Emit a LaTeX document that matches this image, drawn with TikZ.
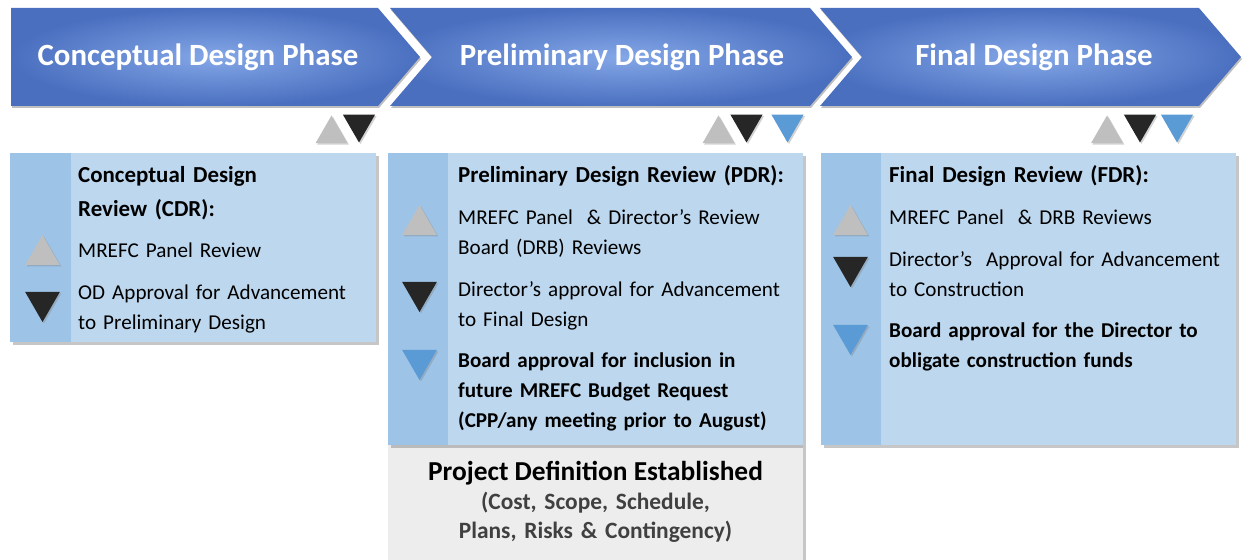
\documentclass[tikz,border=0pt]{standalone}
\usepackage{fontspec}
\setmainfont{Carlito}
\usetikzlibrary{shapes.geometric, shadows, positioning}

\definecolor{phasedark}{HTML}{4A6FBF}
\definecolor{phaselight}{HTML}{84A7E7}
\definecolor{boxblue}{HTML}{BDD7EE}
\definecolor{stripblue}{HTML}{9DC3E6}
\definecolor{markgray}{HTML}{BFBFBF}
\definecolor{markblack}{HTML}{262626}
\definecolor{markblue}{HTML}{5B9BD5}
\definecolor{notegray}{HTML}{EDEDED}
\definecolor{notetext}{HTML}{404040}

\tikzset{
    phasetext/.style={text=white,font=\fontsize{31}{36}\selectfont\bfseries},
    reviewbox/.style={rectangle,fill=boxblue,anchor=north west,inner sep=0pt,
        drop shadow={shadow xshift=3bp,shadow yshift=-3bp,opacity=0.45}},
    itemtext/.style={anchor=base west,inner sep=0pt,align=left,text width=345bp,
        font=\fontsize{21.2}{30}\selectfont},
    headtext/.style={itemtext,font=\fontsize{23}{34}\selectfont\bfseries},
    marksize/.style={regular polygon,regular polygon sides=3,inner sep=0pt,minimum size=#1,
        drop shadow={shadow xshift=1.5bp,shadow yshift=-1.5bp,opacity=0.35}},
    upmark/.style={marksize=#1,fill=markgray},
    downmark/.style={marksize=#1,fill=markblack,shape border rotate=180},
    bluemark/.style={marksize=#1,fill=markblue,shape border rotate=180},
}

\begin{document}
\begin{tikzpicture}[x=1bp,y=-1bp]
    \useasboundingbox (0,0) rectangle (1243,560);

    % phases
    \shade[inner color=phaselight,outer color=phasedark,drop shadow={shadow xshift=1bp,shadow yshift=-2bp,opacity=0.5}]
        (11,8) -- (378,8) -- (420,57) -- (378,106) -- (11,106) -- cycle;
    \shade[inner color=phaselight,outer color=phasedark,drop shadow={shadow xshift=1bp,shadow yshift=-2bp,opacity=0.5}]
        (390,8) -- (810,8) -- (852,57) -- (810,106) -- (390,106) -- (432,57) -- cycle;
    \shade[inner color=phaselight,outer color=phasedark,drop shadow={shadow xshift=1bp,shadow yshift=-2bp,opacity=0.5}]
        (820,8) -- (1199,8) -- (1241,57) -- (1199,106) -- (820,106) -- (862,57) -- cycle;
    \node[phasetext] (cdp) at (198,57) {Conceptual Design Phase};
    \node[phasetext] (pdp) at (622,57) {Preliminary Design Phase};
    \node[phasetext] (fdp) at (1034,57) {Final Design Phase};

    % markers under the phases
    \node[upmark=37bp] (cdpup) at (331.5,134) {};
    \node[downmark=37bp] (cdpdown) at (359,124) {};
    \node[upmark=37bp] (pdpup) at (718.5,134) {};
    \node[downmark=37bp] (pdpdown) at (746.5,124) {};
    \node[bluemark=37bp] (pdpblue) at (787.5,124) {};
    \node[upmark=37bp] (fdpup) at (1107,134) {};
    \node[downmark=37bp] (fdpdown) at (1140,124) {};
    \node[bluemark=37bp] (fdpblue) at (1177,124) {};

    % review boxes
    \node[reviewbox,fill=notegray,minimum width=415bp,minimum height=115bp] (pdnote) at (388,445) {};
    \node[reviewbox,minimum width=366bp,minimum height=189bp] (cdrbox) at (10,153) {};
    \fill[stripblue] (10,153) rectangle (71,342);
    \node[reviewbox,minimum width=415bp,minimum height=292bp] (pdrbox) at (388,153) {};
    \fill[stripblue] (388,153) rectangle (448,445);
    \node[reviewbox,minimum width=415bp,minimum height=292bp] (fdrbox) at (821,153) {};
    \fill[stripblue] (821,153) rectangle (881,445);

    % CDR
    \node[upmark=40bp] (cdrup) at (42.5,255) {};
    \node[downmark=40bp] (cdrdown) at (42.5,302) {};
    \node[headtext] (cdrhead) at (78,183) {Conceptual Design\\Review (CDR):};
    \node[itemtext] (cdrone) at (78,258) {MREFC Panel Review};
    \node[itemtext] (cdrtwo) at (78,300) {OD Approval for Advancement\\to Preliminary Design};

    % PDR
    \node[upmark=40bp] (pdrup) at (419.5,225) {};
    \node[downmark=40bp] (pdrdown) at (419.5,292) {};
    \node[bluemark=40bp] (pdrblue) at (419.5,360) {};
    \node[headtext] (pdrhead) at (458,183) {Preliminary Design Review (PDR):};
    \node[itemtext] (pdrone) at (458,225) {MREFC Panel~ \& Director's Review\\Board (DRB) Reviews};
    \node[itemtext] (pdrtwo) at (458,297) {Director's approval for Advancement\\to Final Design};
    \node[itemtext,font=\fontsize{21.2}{30}\selectfont\bfseries] (pdrthree) at (458,368) {Board approval for inclusion in\\future MREFC Budget Request\\(CPP/any meeting prior to August)};

    % FDR
    \node[upmark=40bp] (fdrup) at (850.5,225) {};
    \node[downmark=40bp] (fdrdown) at (850.5,267) {};
    \node[bluemark=40bp] (fdrblue) at (850.5,335) {};
    \node[headtext] (fdrhead) at (889,183) {Final Design Review (FDR):};
    \node[itemtext] (fdrone) at (889,225) {MREFC Panel~ \& DRB Reviews};
    \node[itemtext] (fdrtwo) at (889,267) {Director's~ Approval for Advancement\\to Construction};
    \node[itemtext,font=\fontsize{21.2}{30}\selectfont\bfseries] (fdrthree) at (889,338) {Board approval for the Director to\\obligate construction funds};

    % project definition
    \node[anchor=base,inner sep=0pt,font=\fontsize{27.5}{32}\selectfont\bfseries] (pdtitle) at (595.5,480) {Project Definition Established};
    \node[anchor=base,inner sep=0pt,align=center,text width=400bp,text=notetext,font=\fontsize{23.5}{30}\selectfont\bfseries] (pdlist) at (595.5,509) {(Cost, Scope, Schedule,\\Plans, Risks \& Contingency)};
\end{tikzpicture}
\end{document}
